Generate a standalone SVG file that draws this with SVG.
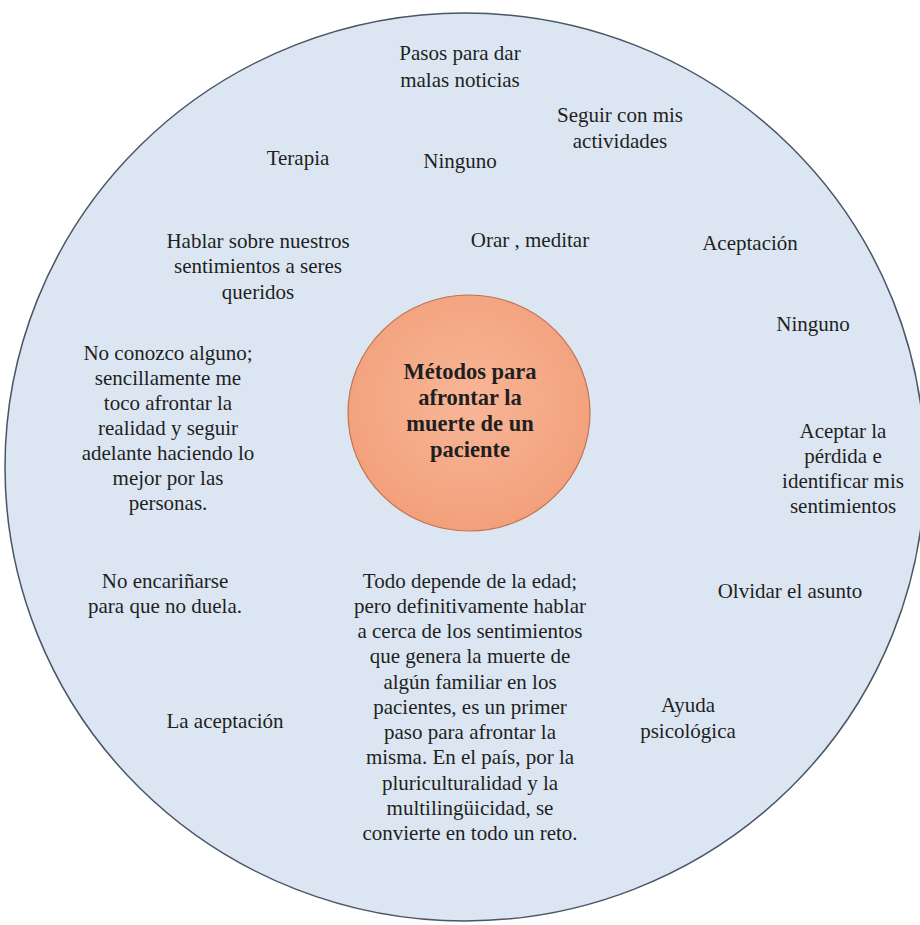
<svg xmlns="http://www.w3.org/2000/svg" width="920" height="925" viewBox="0 0 920 925">
<defs>
<radialGradient id="g1" cx="50%" cy="45%" r="60%">
<stop offset="0" stop-color="#f8b698"/>
<stop offset="1" stop-color="#f29e78"/>
</radialGradient>
<style>
text{font-family:"Liberation Serif","Times New Roman",serif;font-size:21px;fill:#1f1f1f;text-anchor:middle}
.b{font-weight:bold;font-size:22.5px}
</style>
</defs>
<rect width="920" height="925" fill="#ffffff"/>
<g id="outer"><ellipse cx="465" cy="467" rx="460" ry="454" fill="#dce6f2" stroke="#4a5566" stroke-width="1.5"/></g>
<g id="center"><ellipse cx="469" cy="413" rx="121" ry="118" fill="url(#g1)" stroke="#c2734f" stroke-width="1.2"/>
<text class="b" x="470" y="379">Métodos para</text>
<text class="b" x="470" y="405">afrontar la</text>
<text class="b" x="470" y="431">muerte de un</text>
<text class="b" x="470" y="457">paciente</text></g>
<g id="connectors"></g>
<g id="n1"><text x="460" y="60">Pasos para dar</text><text x="460" y="87">malas noticias</text></g>
<g id="n2"><text x="620" y="122">Seguir con mis</text><text x="620" y="148">actividades</text></g>
<g id="n3"><text x="298" y="165">Terapia</text></g>
<g id="n4"><text x="460" y="168">Ninguno</text></g>
<g id="n5"><text x="258" y="248">Hablar sobre nuestros</text><text x="258" y="273">sentimientos a seres</text><text x="258" y="299">queridos</text></g>
<g id="n6"><text x="530" y="247">Orar , meditar</text></g>
<g id="n7"><text x="750" y="250">Aceptación</text></g>
<g id="n8"><text x="813" y="331">Ninguno</text></g>
<g id="n9"><text x="168" y="360">No conozco alguno;</text><text x="168" y="385">sencillamente me</text><text x="168" y="410">toco afrontar la</text><text x="168" y="435">realidad y seguir</text><text x="168" y="460">adelante haciendo lo</text><text x="168" y="485">mejor por las</text><text x="168" y="510">personas.</text></g>
<g id="n10"><text x="843" y="438">Aceptar la</text><text x="843" y="463">pérdida e</text><text x="843" y="488">identificar mis</text><text x="843" y="513">sentimientos</text></g>
<g id="n11"><text x="165" y="588">No encariñarse</text><text x="165" y="613">para que no duela.</text></g>
<g id="n12"><text x="790" y="598">Olvidar el asunto</text></g>
<g id="n13"><text x="470" y="588">Todo depende de la edad;</text><text x="470" y="613">pero definitivamente hablar</text><text x="470" y="638">a cerca de los sentimientos</text><text x="470" y="663">que genera la muerte de</text><text x="470" y="689">algún familiar en los</text><text x="470" y="714">pacientes, es un primer</text><text x="470" y="739">paso para afrontar la</text><text x="470" y="764">misma. En el país, por la</text><text x="470" y="790">pluriculturalidad y la</text><text x="470" y="815">multilingüicidad, se</text><text x="470" y="840">convierte en todo un reto.</text></g>
<g id="n14"><text x="688" y="712">Ayuda</text><text x="688" y="738">psicológica</text></g>
<g id="n15"><text x="225" y="728">La aceptación</text></g>
</svg>
